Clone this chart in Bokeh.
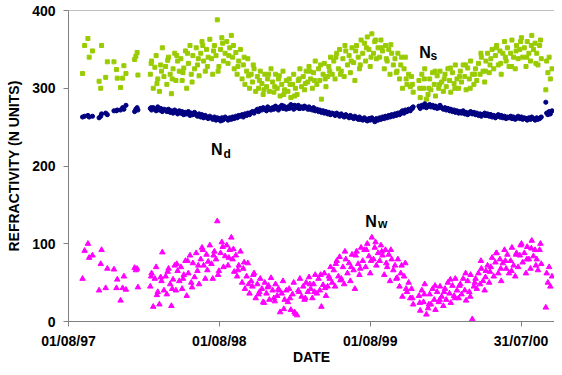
from bokeh.plotting import figure
from bokeh.models import Range1d, FixedTicker, Span
from bokeh.core.properties import value
from bokeh.embed import file_html
from bokeh.resources import INLINE

# Days since 01/08/97
day = [
    34, 39, 47, 50, 58, 74, 78, 80, 90, 94, 110, 116, 118, 126, 131, 134, 139, 160, 163, 166, 168,
    198, 201, 205, 209, 212, 216, 220, 223, 227, 231,
    235, 238, 242, 246, 249, 253, 257, 260, 264, 268,
    272, 275, 279, 283, 286, 290, 294, 297, 301, 305,
    309, 312, 316, 320, 323, 327, 331, 334, 338, 342,
    346, 349, 353, 357, 360, 364, 368, 371, 375, 379,
    383, 386, 390, 394, 397, 401, 405, 408, 412, 416,
    420, 423, 427, 431, 434, 438, 442, 445, 449, 453,
    457, 460, 464, 468, 471, 475, 479, 482, 486, 490,
    494, 497, 501, 505, 508, 512, 516, 519, 523, 527,
    531, 534, 538, 542, 545, 549, 553, 556, 560, 564,
    568, 571, 575, 579, 582, 586, 590, 593, 597, 601,
    605, 608, 612, 616, 619, 623, 627, 630, 634, 638,
    642, 645, 649, 653, 656, 660, 664, 667, 671, 675,
    679, 682, 686, 690, 693, 697, 701, 704, 708, 712,
    716, 719, 723, 727, 730, 734, 738, 741, 745, 749,
    753, 756, 760, 764, 767, 771, 775, 778, 782, 786,
    790, 793, 797, 801, 804, 808, 812, 815, 819, 823,
    827, 830, 834, 848, 851, 855, 859, 862, 866, 870,
    874, 877, 881, 885, 888, 892, 896, 899, 903, 907,
    911, 914, 918, 922, 925, 929, 933, 936, 940, 944,
    948, 951, 955, 959, 962, 966, 970, 973, 977, 981,
    985, 988, 992, 996, 999, 1003, 1007, 1010, 1014, 1018,
    1022, 1025, 1029, 1033, 1036, 1040, 1044, 1047, 1051, 1055,
    1059, 1062, 1066, 1070, 1073, 1077, 1081, 1084, 1088, 1092,
    1096, 1099, 1103, 1107, 1110, 1114, 1118, 1121, 1125, 1129,
    1133, 1136, 1140, 1144,
    1155, 1157, 1160, 1163, 1166, 1170,
    200, 214, 225, 240, 251, 262, 277, 288, 299, 314,
    325, 336, 351, 362, 373, 388, 399, 410, 425, 436,
    447, 462, 473, 484, 499, 510, 521, 536, 547, 558,
    573, 584, 595, 610, 621, 632, 647, 658, 669, 684,
    695, 706, 721, 732, 743, 758, 769, 780, 795, 806,
    817, 832, 850, 861, 872, 887, 898, 909, 924, 935,
    946, 961, 972, 983, 998, 1009, 1020, 1035, 1046, 1057,
    1072, 1083, 1094, 1109, 1120, 1131, 1142,
]

# Dry refractivity Nd
n_d = [
    263, 264, 265, 263, 264, 262, 264, 267, 268, 266, 271, 271, 272, 272, 275, 273, 278, 270, 273, 275, 272,
    274, 272, 275, 273, 271, 276, 272, 274, 270, 273,
    272, 270, 273, 269, 271, 268, 272, 270, 267, 271,
    268, 270, 266, 269, 267, 270, 265, 268, 266, 269,
    266, 264, 267, 263, 266, 262, 265, 263, 261, 264,
    262, 260, 263, 259, 262, 261, 258, 262, 260, 263,
    261, 259, 262, 260, 263, 261, 264, 262, 265, 264,
    266, 263, 267, 265, 268, 266, 269, 270, 268, 271,
    273, 270, 274, 272, 275, 273, 271, 276, 274, 272,
    275, 273, 277, 274, 272, 276, 278, 274, 275, 273,
    276, 274, 279, 275, 273, 277, 275, 278, 274, 276,
    274, 277, 275, 273, 276, 274, 272, 275, 271, 273,
    270, 272, 269, 271, 268, 270, 267, 269, 266, 268,
    267, 265, 268, 266, 264, 267, 265, 263, 266, 264,
    262, 265, 263, 261, 264, 262, 260, 263, 261, 259,
    262, 260, 258, 261, 259, 262, 260, 257, 261, 259,
    262, 260, 263, 261, 264, 262, 265, 263, 266, 264,
    267, 265, 268, 266, 269, 271, 268, 272, 270, 273,
    271, 274, 276, 277, 274, 278, 276, 280, 275, 277,
    279, 276, 278, 275, 277, 274, 276, 278, 275, 273,
    275, 272, 274, 271, 273, 270, 272, 269, 271, 268,
    270, 268, 271, 267, 269, 266, 268, 270, 267, 269,
    266, 268, 265, 267, 264, 266, 268, 265, 267, 264,
    266, 263, 265, 262, 264, 266, 263, 265, 262, 264,
    261, 263, 262, 264, 261, 263, 260, 262, 264, 261,
    263, 260, 262, 261, 259, 262, 260, 263, 261, 259,
    262, 260, 261, 263,
    282, 268, 266, 270, 267, 271,
    275, 273, 271, 272, 270, 269, 267, 268, 266, 265,
    264, 262, 261, 260, 259, 260, 262, 263, 265, 267,
    269, 272, 274, 273, 276, 275, 277, 275, 278, 274,
    276, 273, 272, 270, 269, 267, 266, 265, 264, 263,
    262, 260, 259, 261, 258, 261, 263, 264, 266, 268,
    270, 274, 276, 277, 278, 276, 275, 274, 272, 270,
    269, 268, 269, 267, 266, 265, 266, 264, 263, 262,
    263, 261, 262, 260, 261, 260, 262,
]

# Total refractivity Ns
n_s = [
    319, 355, 364, 340, 348, 309, 300, 355, 314, 334, 334, 324, 313, 301, 313, 329, 319, 337, 341, 346, 317,
    318, 335, 300, 327, 342, 312, 296, 330, 352, 315,
    328, 305, 340, 318, 293, 325, 345, 310, 335, 322,
    338, 310, 326, 348, 300, 332, 355, 318, 342, 325,
    352, 330, 316, 345, 360, 335, 322, 350, 340, 363,
    338, 318, 355, 342, 388, 328, 350, 365, 335, 345,
    360, 332, 352, 368, 340, 325, 346, 318, 335, 350,
    312, 330, 305, 322, 338, 300, 318, 308, 325, 296,
    315, 300, 322, 306, 292, 318, 302, 312, 296, 325,
    308, 295, 318, 300, 312, 290, 305, 322, 298, 310,
    296, 312, 288, 305, 318, 300, 292, 310, 325, 302,
    315, 298, 322, 308, 328, 312, 300, 320, 335, 305,
    325, 310, 286, 318, 332, 302, 315, 328, 340, 318,
    335, 312, 345, 325, 350, 322, 338, 315, 348, 330,
    342, 320, 352, 333, 310, 355, 340, 325, 362, 345,
    358, 335, 366, 350, 328, 370, 345, 360, 338, 352,
    340, 362, 348, 325, 355, 335, 350, 318, 345, 330,
    338, 320, 345, 312, 330, 300, 325, 340, 305, 318,
    302, 315, 295, 310, 288, 318, 300, 325, 286, 292,
    312, 298, 320, 305, 290, 316, 300, 322, 308, 296,
    318, 302, 325, 310, 295, 320, 306, 330, 312, 300,
    322, 308, 330, 315, 298, 326, 312, 335, 318, 305,
    325, 310, 332, 318, 340, 322, 308, 335, 345, 320,
    338, 350, 325, 342, 355, 330, 348, 318, 345, 360,
    335, 352, 328, 345, 362, 340, 325, 355, 338, 350,
    365, 340, 352, 328, 360, 345, 335, 368, 350, 358,
    345, 330, 355, 338,
    298, 335, 320, 340, 312, 325,
    332, 306, 322, 336, 312, 342, 320, 345, 308, 338,
    355, 328, 348, 322, 358, 342, 355, 328, 340, 316,
    330, 310, 298, 318, 302, 316, 292, 305, 290, 312,
    306, 322, 310, 330, 312, 322, 340, 318, 355, 335,
    348, 330, 352, 340, 362, 352, 338, 356, 322, 340,
    312, 305, 300, 312, 300, 322, 305, 312, 326, 300,
    315, 330, 300, 318, 345, 322, 330, 352, 332, 340,
    328, 348, 360, 340, 355, 332, 362,
]

# Wet refractivity Nw
n_w = [
    55, 91, 100, 82, 85, 40, 74, 92, 43, 68, 67, 43, 54, 27, 43, 58, 41, 69, 66, 68, 44,
    45, 62, 19, 55, 70, 38, 22, 57, 89, 40,
    58, 35, 68, 48, 20, 54, 72, 40, 65, 52,
    70, 42, 60, 78, 33, 62, 85, 50, 75, 57,
    88, 65, 48, 80, 95, 72, 55, 86, 77, 98,
    74, 55, 90, 80, 129, 65, 88, 102, 70, 84,
    98, 72, 92, 108, 80, 64, 85, 58, 72, 90,
    50, 68, 42, 58, 75, 36, 52, 45, 62, 30,
    48, 35, 55, 42, 25, 50, 36, 44, 28, 56,
    40, 30, 48, 33, 42, 12, 36, 52, 28, 40,
    25, 42, 15, 35, 50, 10, 8, 40, 55, 32,
    45, 28, 50, 38, 57, 42, 30, 48, 60, 36,
    55, 40, 19, 47, 62, 33, 45, 58, 70, 50,
    66, 45, 78, 58, 83, 55, 70, 48, 80, 62,
    75, 52, 86, 66, 42, 90, 74, 60, 95, 78,
    92, 70, 100, 84, 62, 108, 80, 95, 72, 88,
    78, 98, 85, 60, 92, 70, 86, 52, 80, 66,
    72, 55, 80, 45, 62, 32, 58, 75, 38, 50,
    30, 42, 22, 33, 14, 40, 25, 48, 9, 17,
    35, 22, 42, 28, 15, 38, 25, 45, 32, 20,
    42, 28, 50, 36, 24, 46, 33, 55, 40, 30,
    48, 35, 55, 40, 27, 52, 38, 60, 3, 45,
    55, 42, 62, 48, 68, 52, 40, 65, 72, 50,
    70, 82, 58, 76, 88, 62, 80, 52, 75, 92,
    68, 86, 62, 78, 95, 72, 58, 88, 70, 85,
    100, 76, 88, 62, 96, 80, 68, 104, 84, 92,
    80, 66, 92, 74,
    18, 62, 50, 70, 45, 58,
    58, 34, 52, 64, 42, 74, 55, 78, 44, 72,
    92, 66, 85, 60, 96, 82, 93, 66, 76, 48,
    60, 38, 24, 46, 26, 40, 16, 30, 12, 38,
    30, 48, 38, 60, 43, 55, 74, 53, 90, 70,
    85, 68, 92, 78, 102, 90, 75, 92, 56, 72,
    42, 30, 24, 35, 22, 46, 28, 38, 54, 30,
    46, 62, 32, 50, 78, 57, 64, 88, 68, 78,
    65, 86, 98, 80, 94, 72, 100,
]

tick_days = [0, 365, 730, 1095]
tick_labels = ["01/08/97", "01/08/98", "01/08/99", "31/07/00"]
y_ticks = [0, 100, 200, 300, 400]

FONT = "Liberation Sans"
GRAY = "#808080"

p = figure(width=554, height=367, output_backend="svg", toolbar_location=None,
           x_range=Range1d(0, 1176), y_range=Range1d(0, 400),
           min_border_left=68, min_border_right=0, min_border_top=10, min_border_bottom=46)
p.grid.visible = False
p.outline_line_color = None
p.background_fill_color = "white"
p.border_fill_color = "white"

p.scatter(day, n_s, marker="square", size=4, color="#99CC00")
p.scatter(day, n_d, marker="circle", size=4.2, color="#000080")
p.scatter(day, n_w, marker="triangle", size=5.5, color="#FF00FF")

p.add_layout(Span(location=400, dimension="width", line_color=GRAY, line_width=1))

for ax in (p.xaxis[0], p.yaxis[0]):
    ax.axis_line_color = GRAY
    ax.major_tick_line_color = GRAY
    ax.major_tick_in = 0
    ax.major_tick_out = 5
    ax.minor_tick_line_color = None
    ax.major_label_text_font = FONT
    ax.major_label_text_font_style = "bold"
    ax.major_label_text_font_size = "14px"
    ax.major_label_text_color = "black"
    ax.axis_label_text_font = FONT
    ax.axis_label_text_font_style = "bold"
    ax.axis_label_text_font_size = "14px"
    ax.axis_label_text_color = "black"

p.xaxis.ticker = FixedTicker(ticks=tick_days)
p.xaxis.major_label_overrides = {d: t for d, t in zip(tick_days, tick_labels)}
p.yaxis.ticker = FixedTicker(ticks=y_ticks)
p.xaxis.axis_label = "DATE"
p.yaxis.axis_label = "REFRACTIVITY (N UNITS)"
p.xaxis.major_label_standoff = 6
p.xaxis.axis_label_standoff = -3
p.yaxis.major_label_standoff = 8
p.yaxis.axis_label_standoff = 7

def label(x, y, main, sub, xs, ys):
    p.text(x=[x], y=[y], text=[main], text_font=value(FONT), text_font_style="bold",
           text_font_size="16px", text_baseline="alphabetic", text_align="left", text_color="black")
    p.text(x=[xs], y=[ys], text=[sub], text_font=value(FONT), text_font_style="bold",
           text_font_size="12px", text_baseline="alphabetic", text_align="left", text_color="black")

label(849, 346, "N", "s", 876, 342)
label(345, 221, "N", "d", 375, 216)
label(718, 129, "N", "w", 749, 126)

open("out.html", "w").write(file_html(p, INLINE))
